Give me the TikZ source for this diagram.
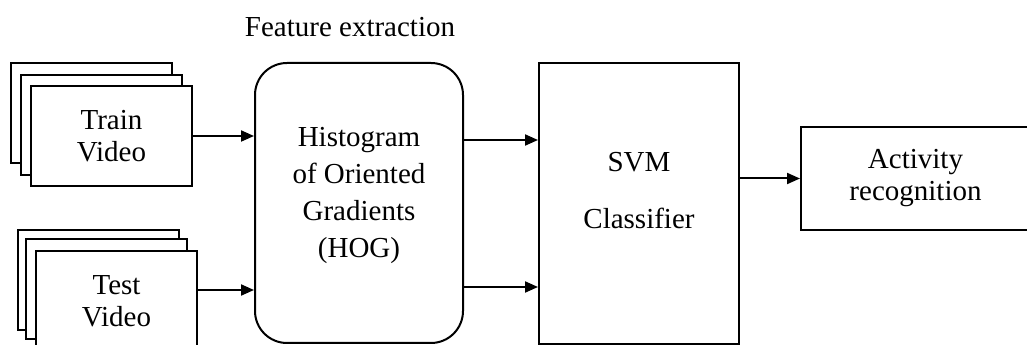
\documentclass[tikz,border=0pt]{standalone}
\usepackage{fontspec}
\setmainfont{Liberation Serif}
\usetikzlibrary{positioning,arrows.meta}
\tikzset{video node/.style={rectangle,draw,fill=white,line width=2pt,minimum width=161pt,minimum height=100pt,inner sep=0pt,align=center},
         hog node/.style={rectangle,rounded corners=32pt,draw,line width=2pt,minimum width=208pt,minimum height=280pt},
         svm node/.style={rectangle,draw,line width=2pt,minimum width=200pt,minimum height=281pt},
         act node/.style={rectangle,draw,line width=2pt,minimum width=229pt,minimum height=103pt,align=center},
         text node/.style={align=center,inner sep=0pt},
         flow/.style={-{Triangle[length=13pt,width=11pt]},line width=2pt},
            }

\begin{document}
\begin{tikzpicture}[x=1pt,y=1pt,font=\fontsize{29}{32}\selectfont]
    \useasboundingbox (0,0) rectangle (1027,345);

    % stacked video frames
    \node[video node] (train3) at (91,231.5) {};
    \node[video node] (train2) at (101,220) {};
    \node[video node] (train) at (111.5,209) {Train\\Video};

    \node[video node] (test3) at (98,65) {};
    \node[video node] (test2) at (106,56) {};
    \node[video node] (test) at (116.5,44) {Test\\Video};

    % processing blocks
    \node[hog node] (hog) at (359,142) {};
    \node[text node] (hogtext) at ([yshift=8pt]hog.center) {Histogram\\[5pt]of Oriented\\[5pt]Gradients\\[5pt](HOG)};
    \node (feat) at (350,318) {Feature extraction};

    \node[svm node] (svm) at (639,141.5) {};
    \node[text node] (svmtext) at ([yshift=13pt]svm.center) {SVM\\[25pt]Classifier};

    \node[act node] (act) at (915.5,166.5) {Activity\\recognition};

    % connectors
    \coordinate (tin) at ([yshift=11pt]test.east);
    \coordinate (h1) at ([yshift=63pt]hog.east);
    \coordinate (h2) at ([yshift=-84pt]hog.east);

    \draw[flow] (train.east) -- (train.east -| hog.west);
    \draw[flow] (tin) -- (tin -| hog.west);
    \draw[flow] (h1) -- (h1 -| svm.west);
    \draw[flow] (h2) -- (h2 -| svm.west);
    \draw[flow] (act.west -| svm.east) -- (act.west);
\end{tikzpicture}
\end{document}
